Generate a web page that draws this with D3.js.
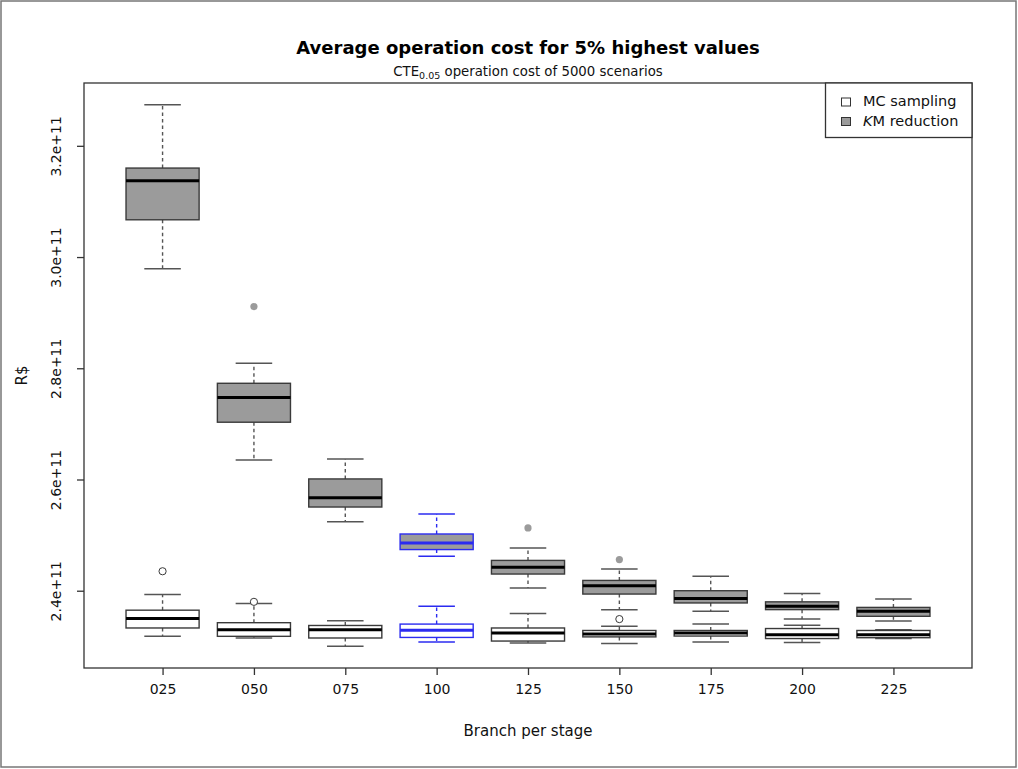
<!DOCTYPE html>
<html>
<head>
<meta charset="utf-8">
<script src="https://cdn.jsdelivr.net/npm/d3@7"></script>
<style>
  html, body { margin: 0; padding: 0; background: #fff; }
  svg { display: block; font-family: "DejaVu Sans", sans-serif; }
</style>
</head>
<body>
<svg id="chart" width="1018" height="769"></svg>
<script>
// Branch counts per stage (x categories)
const branches = ["025", "050", "075", "100", "125", "150", "175", "200", "225"];
const highlighted = "100";

// K-means reduction: five-number summaries per branch count (R$)
const kmWhiskerLow  = [2.979e11, 2.635e11, 2.524e11, 2.462e11, 2.405e11, 2.366e11, 2.363e11, 2.349e11, 2.3455e11];
const kmQ1          = [3.067e11, 2.703e11, 2.5505e11, 2.474e11, 2.430e11, 2.394e11, 2.378e11, 2.366e11, 2.354e11];
const kmMedian      = [3.137e11, 2.7475e11, 2.567e11, 2.486e11, 2.442e11, 2.409e11, 2.386e11, 2.372e11, 2.363e11];
const kmQ3          = [3.160e11, 2.773e11, 2.601e11, 2.502e11, 2.4545e11, 2.4185e11, 2.400e11, 2.380e11, 2.370e11];
const kmWhiskerHigh = [3.274e11, 2.809e11, 2.637e11, 2.538e11, 2.477e11, 2.439e11, 2.426e11, 2.395e11, 2.385e11];
const kmOutliers    = [[], [2.911e11], [], [], [2.513e11], [2.456e11], [], [], []];

// Monte Carlo sampling: five-number summaries per branch count (R$)
const mcWhiskerLow  = [2.318e11, 2.315e11, 2.300e11, 2.308e11, 2.306e11, 2.305e11, 2.308e11, 2.307e11, 2.314e11];
const mcQ1          = [2.333e11, 2.318e11, 2.315e11, 2.316e11, 2.3095e11, 2.317e11, 2.3185e11, 2.314e11, 2.3155e11];
const mcMedian      = [2.350e11, 2.330e11, 2.330e11, 2.329e11, 2.324e11, 2.322e11, 2.324e11, 2.321e11, 2.321e11];
const mcQ3          = [2.365e11, 2.3425e11, 2.3375e11, 2.340e11, 2.333e11, 2.3285e11, 2.3285e11, 2.332e11, 2.3285e11];
const mcWhiskerHigh = [2.393e11, 2.377e11, 2.346e11, 2.372e11, 2.359e11, 2.336e11, 2.340e11, 2.338e11, 2.330e11];
const mcOutliers    = [[2.435e11], [2.380e11], [], [], [], [2.349e11], [], [], []];

// Axis ticks
const yTicks = [2.4e11, 2.6e11, 2.8e11, 3.0e11, 3.2e11];
const yTickLabels = ["2.4e+11", "2.6e+11", "2.8e+11", "3.0e+11", "3.2e+11"];

const svg = d3.select("#chart");
const W = 1018, H = 769;
const plot = { left: 84, right: 972, top: 83, bottom: 668 };

// Outer frame of the figure
svg.append("rect")
  .attr("x", 1).attr("y", 1).attr("width", W - 3).attr("height", H - 3)
  .attr("fill", "none").attr("stroke", "#777").attr("stroke-width", 1.5);

// Scales: R-style 4% range extension
const n = branches.length;
const allVals = [].concat(kmWhiskerLow, kmWhiskerHigh, mcWhiskerLow, mcWhiskerHigh,
                          kmOutliers.flat(), mcOutliers.flat());
const vMin = d3.min(allVals), vMax = d3.max(allVals);
const pad = (vMax - vMin) * 0.04;
const y = d3.scaleLinear().domain([vMin - pad, vMax + pad]).range([plot.bottom, plot.top]);
const xPad = n * 0.04;
const x = d3.scaleLinear().domain([0.5 - xPad, n + 0.5 + xPad]).range([plot.left, plot.right]);
const unit = x(2) - x(1);
const boxW = unit * 0.8;
const stapleW = boxW * 0.5;

const lineCol = "#3a3a3a";
const whiskCol = "#555";
const kmFill = "#9b9b9b";
const blue = "#2b2bf0";

function drawSeries(cls, low, q1, med, q3, high, outs, fill, hollowOutliers) {
  const g = svg.append("g").attr("class", cls);
  branches.forEach((b, i) => {
    const cx = x(i + 1);
    const col = b === highlighted ? blue : lineCol;
    const wcol = b === highlighted ? blue : whiskCol;
    const bg = g.append("g");
    // whiskers and staples
    [[q3[i], high[i]], [q1[i], low[i]]].forEach(([a, c]) => {
      bg.append("line")
        .attr("x1", cx).attr("x2", cx).attr("y1", y(a)).attr("y2", y(c))
        .attr("stroke", wcol).attr("stroke-width", 1.4).attr("stroke-dasharray", "3.5,3");
      bg.append("line")
        .attr("x1", cx - stapleW / 2).attr("x2", cx + stapleW / 2)
        .attr("y1", y(c)).attr("y2", y(c))
        .attr("stroke", wcol).attr("stroke-width", 1.5);
    });
    // box
    bg.append("rect")
      .attr("x", cx - boxW / 2).attr("width", boxW)
      .attr("y", y(q3[i])).attr("height", y(q1[i]) - y(q3[i]))
      .attr("fill", fill).attr("stroke", col).attr("stroke-width", 1.4);
    // median
    bg.append("line")
      .attr("x1", cx - boxW / 2).attr("x2", cx + boxW / 2)
      .attr("y1", y(med[i])).attr("y2", y(med[i]))
      .attr("stroke", b === highlighted ? blue : "#000").attr("stroke-width", 3);
    // outliers
    outs[i].forEach(v => {
      bg.append("circle")
        .attr("cx", cx).attr("cy", y(v)).attr("r", 3.6)
        .attr("fill", hollowOutliers ? "#fff" : kmFill)
        .attr("stroke", hollowOutliers ? lineCol : "none")
        .attr("stroke-width", 1);
    });
  });
}

drawSeries("km", kmWhiskerLow, kmQ1, kmMedian, kmQ3, kmWhiskerHigh, kmOutliers, kmFill, false);
drawSeries("mc", mcWhiskerLow, mcQ1, mcMedian, mcQ3, mcWhiskerHigh, mcOutliers, "#fff", true);

// Plot frame
svg.append("rect")
  .attr("x", plot.left).attr("y", plot.top)
  .attr("width", plot.right - plot.left).attr("height", plot.bottom - plot.top)
  .attr("fill", "none").attr("stroke", "#333").attr("stroke-width", 1.3);

// Y axis
const yAxis = d3.axisLeft(y).tickValues(yTicks)
  .tickFormat((d, i) => yTickLabels[i]).tickSize(7).tickSizeOuter(0).tickPadding(0);
const ya = svg.append("g").attr("transform", `translate(${plot.left},0)`).call(yAxis);
ya.select(".domain").remove();
ya.selectAll(".tick line").attr("stroke", "#333").attr("stroke-width", 1.3);
ya.selectAll(".tick text")
  .attr("x", 0).attr("dy", null).attr("y", 0)
  .attr("transform", "translate(-27,0) rotate(-90)")
  .attr("text-anchor", "middle").attr("dominant-baseline", "middle")
  .attr("font-family", "DejaVu Sans").attr("font-size", 14).attr("fill", "#111");

// X axis
const xAxis = d3.axisBottom(x).tickValues(d3.range(1, n + 1))
  .tickFormat(d => branches[d - 1]).tickSize(7).tickSizeOuter(0).tickPadding(9);
const xa = svg.append("g").attr("transform", `translate(0,${plot.bottom})`).call(xAxis);
xa.select(".domain").remove();
xa.selectAll(".tick line").attr("stroke", "#333").attr("stroke-width", 1.3);
xa.selectAll(".tick text")
  .attr("font-family", "DejaVu Sans").attr("font-size", 14).attr("fill", "#111");

// Titles
const cxPlot = (plot.left + plot.right) / 2;
svg.append("text").attr("x", cxPlot).attr("y", 54)
  .attr("text-anchor", "middle").attr("font-weight", "bold").attr("font-size", 18)
  .attr("fill", "#000").text("Average operation cost for 5% highest values");
const sub = svg.append("text").attr("x", cxPlot).attr("y", 76)
  .attr("text-anchor", "middle").attr("font-size", 13.3).attr("fill", "#111");
sub.append("tspan").text("CTE");
sub.append("tspan").attr("font-size", 9.5).attr("dy", 3).text("0.05");
sub.append("tspan").attr("dy", -3).text(" operation cost of 5000 scenarios");

svg.append("text").attr("x", cxPlot).attr("y", 736)
  .attr("text-anchor", "middle").attr("font-size", 15).attr("fill", "#111")
  .text("Branch per stage");
svg.append("text")
  .attr("transform", `translate(27,${(plot.top + plot.bottom) / 2}) rotate(-90)`)
  .attr("text-anchor", "middle").attr("font-size", 15).attr("fill", "#111")
  .text("R$");

// Legend
const leg = svg.append("g");
leg.append("rect").attr("x", 825.5).attr("y", plot.top).attr("width", plot.right - 825.5)
  .attr("height", 54.5).attr("fill", "#fff").attr("stroke", "#333").attr("stroke-width", 1.3);
const legendItems = [
  { fill: "#fff", parts: [["MC sampling", false]] },
  { fill: kmFill, parts: [["K", true], ["M reduction", false]] }
];
legendItems.forEach((it, i) => {
  const cy = 102 + i * 19.5;
  leg.append("rect").attr("x", 841.5).attr("y", cy - 4).attr("width", 9).attr("height", 8)
    .attr("fill", it.fill).attr("stroke", "#333").attr("stroke-width", 1);
  const t = leg.append("text").attr("x", 863).attr("y", cy)
    .attr("dominant-baseline", "middle").attr("font-size", 14.5).attr("fill", "#111");
  it.parts.forEach(([s, ital]) => {
    t.append("tspan").attr("font-style", ital ? "italic" : "normal").text(s);
  });
});
</script>
</body>
</html>
